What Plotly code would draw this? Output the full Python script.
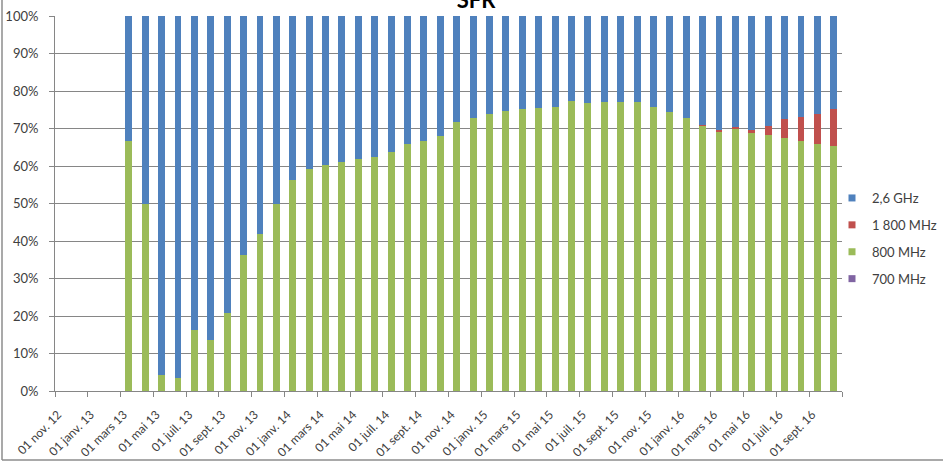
import plotly.graph_objects as go

# Axis months (Nov 2012 .. Oct 2016), one slot per month
axis_months = [
    "nov. 12", "déc. 12",
    "janv. 13", "févr. 13", "mars 13", "avr. 13", "mai 13", "juin 13",
    "juil. 13", "août 13", "sept. 13", "oct. 13", "nov. 13", "déc. 13",
    "janv. 14", "févr. 14", "mars 14", "avr. 14", "mai 14", "juin 14",
    "juil. 14", "août 14", "sept. 14", "oct. 14", "nov. 14", "déc. 14",
    "janv. 15", "févr. 15", "mars 15", "avr. 15", "mai 15", "juin 15",
    "juil. 15", "août 15", "sept. 15", "oct. 15", "nov. 15", "déc. 15",
    "janv. 16", "févr. 16", "mars 16", "avr. 16", "mai 16", "juin 16",
    "juil. 16", "août 16", "sept. 16", "oct. 16",
]

# Months having data (Mar 2013 .. Oct 2016)
bar_months = axis_months[4:]

ghz_26 = [33.3, 50.0, 95.7, 96.4, 83.7, 86.5, 79.1, 63.7, 58.0, 50.2,
          43.6, 40.8, 39.6, 38.9, 38.2, 37.5, 36.3, 34.2, 33.3, 32.0,
          28.3, 27.1, 26.0, 25.3, 24.9, 24.4, 24.2, 22.6, 23.2, 23.0,
          22.8, 22.8, 24.2, 25.5, 27.2, 29.0, 30.4, 29.7, 30.5, 29.2,
          27.5, 26.8, 26.2, 24.7]
mhz_1800 = [0, 0, 0, 0, 0, 0, 0, 0, 0, 0,
            0, 0, 0, 0, 0, 0, 0, 0, 0, 0,
            0, 0, 0, 0, 0, 0, 0, 0, 0, 0,
            0, 0, 0, 0, 0, 0.2, 0.6, 0.4, 0.5, 2.6,
            5.0, 6.5, 7.9, 9.9]
mhz_800 = [66.7, 50.0, 4.3, 3.6, 16.3, 13.5, 20.9, 36.3, 42.0, 49.8,
           56.4, 59.2, 60.4, 61.1, 61.8, 62.5, 63.7, 65.8, 66.7, 68.0,
           71.7, 72.9, 74.0, 74.7, 75.1, 75.6, 75.8, 77.4, 76.8, 77.0,
           77.2, 77.2, 75.8, 74.5, 72.8, 70.8, 69.0, 69.9, 69.0, 68.2,
           67.5, 66.7, 65.9, 65.4]
mhz_700 = [0] * len(bar_months)

# Tick labels every two months, at month starts
tick_months = axis_months[::2]
tick_labels = ["01 " + m for m in tick_months]
y_ticks = list(range(0, 101, 10))
y_labels = [f"{v}%" for v in y_ticks]

x_bars = [axis_months.index(m) + 0.5 for m in bar_months]
tick_pos = [axis_months.index(m) for m in tick_months] + [len(axis_months)]
tick_text = tick_labels + [""]

series = [
    ("700 MHz", mhz_700, "#8064A2", 4),
    ("800 MHz", mhz_800, "#9BBB59", 3),
    ("1 800 MHz", mhz_1800, "#C0504D", 2),
    ("2,6 GHz", ghz_26, "#4F81BD", 1),
]

FONT = "Lato, Open Sans, sans-serif"

fig = go.Figure()
for name, vals, col, rank in series:
    fig.add_trace(go.Bar(
        x=x_bars, y=vals, name=name, marker=dict(color=col, line=dict(width=0)),
        width=0.42, legendgroup=name, showlegend=False,
    ))
    # legend entry with a small square symbol
    fig.add_trace(go.Scatter(
        x=[None], y=[None], mode="markers", name=name,
        marker=dict(symbol="square", size=7, color=col),
        legendgroup=name, legendrank=rank, showlegend=True,
    ))

W, H = 943, 462
L, R, T, B = 55, 101, 16, 71
pw, ph = W - L - R, H - T - B

fig.update_layout(
    width=W, height=H,
    margin=dict(l=L, r=R, t=T, b=B, autoexpand=False),
    barmode="stack",
    plot_bgcolor="white", paper_bgcolor="white",
    font=dict(family=FONT, size=13, color="#404040"),
    title=dict(text="<b>SFR</b>", x=476 / W, xanchor="center", xref="container",
               y=1.0, yanchor="middle", yref="container", automargin=False,
               font=dict(size=22, color="#000000", family=FONT)),
    legend=dict(
        x=(832 - L) / pw, xanchor="left",
        y=(391 - 183) / ph, yanchor="top",
        traceorder="grouped", tracegroupgap=7,
        font=dict(size=13, color="#404040", family=FONT),
        itemwidth=30, bgcolor="rgba(0,0,0,0)",
    ),
    showlegend=True,
    xaxis=dict(
        range=[0, len(axis_months)], automargin=False,
        tickmode="array", tickvals=tick_pos, ticktext=tick_text,
        tickangle=-45, ticks="outside", ticklen=5, tickcolor="#868686",
        showline=True, linecolor="#868686", linewidth=1,
        showgrid=False, zeroline=False,
        tickfont=dict(size=12, color="#404040", family=FONT),
        ticklabelshift=3, ticklabelstandoff=6,
    ),
    yaxis=dict(
        range=[0, 100], automargin=False,
        tickmode="array", tickvals=y_ticks, ticktext=y_labels,
        ticks="outside", ticklen=5, tickcolor="#868686",
        showline=True, linecolor="#868686", linewidth=1,
        showgrid=True, gridcolor="#868686", gridwidth=1,
        zeroline=False,
        tickfont=dict(size=13, color="#404040", family=FONT),
        ticklabelstandoff=8,
    ),
    bargap=0.58,
)

# outer chart frame (left and bottom edges visible)
fx0 = (2 - L) / pw
fy0 = (391 - 460) / ph
fig.add_shape(type="line", xref="paper", yref="paper", x0=fx0, x1=fx0, y0=fy0, y1=(391 + 10) / ph,
              line=dict(color="#8c8c8c", width=1.5))
fig.add_shape(type="line", xref="paper", yref="paper", x0=fx0, x1=(W - L) / pw, y0=fy0, y1=fy0,
              line=dict(color="#8c8c8c", width=1.5))

fig.write_html("out.html", config={"displayModeBar": False},
               post_script="document.body.style.margin='0px';")
